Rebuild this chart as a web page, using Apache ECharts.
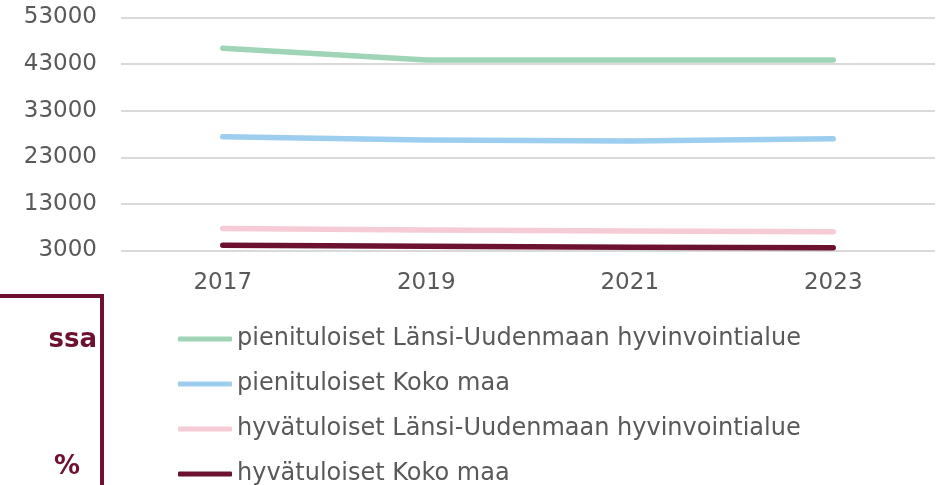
<!DOCTYPE html>
<html>
<head>
<meta charset="utf-8">
<script src="https://cdn.jsdelivr.net/npm/echarts@6/dist/echarts.min.js"></script>
<style>
  html, body { margin: 0; padding: 0; background: #fff; }
  #chart { width: 945px; height: 485px; }
</style>
</head>
<body>
<div id="chart"></div>
<script>
var years = ['2017', '2019', '2021', '2023'];
var yTicks = [3000, 13000, 23000, 33000, 43000, 53000];

var seriesNames = [
    'pienituloiset Länsi-Uudenmaan hyvinvointialue',
    'pienituloiset Koko maa',
    'hyvätuloiset Länsi-Uudenmaan hyvinvointialue',
    'hyvätuloiset Koko maa'
];
var pieniLU = [46400, 43900, 43900, 43900];
var pieniKoko = [27400, 26700, 26500, 27000];
var hyvaLU = [7700, 7400, 7200, 7000];
var hyvaKoko = [4100, 3900, 3700, 3600];
var colors = ['#9fd5b6', '#9dcdef', '#f5ccd5', '#6d1131'];

var txt = '#595959';
var font = 'Verdana, "DejaVu Sans", sans-serif';

var chart = echarts.init(document.getElementById('chart'));

function line(name, data, color) {
    return {
        name: name,
        type: 'line',
        data: data,
        symbol: 'none',
        lineStyle: { color: color, width: 5.5, cap: 'round', join: 'round' },
        itemStyle: { color: color },
        animation: false
    };
}

chart.setOption({
    grid: { left: 121, right: 10, top: 17.5, bottom: 234.5 },
    xAxis: {
        type: 'category',
        data: years,
        boundaryGap: true,
        axisLine: { show: false },
        axisTick: { show: false },
        axisLabel: { color: txt, fontFamily: font, fontSize: 23, margin: 21 }
    },
    yAxis: {
        type: 'value',
        min: 3000,
        max: 53000,
        axisLine: { show: false },
        axisTick: { show: false, customValues: yTicks },
        axisLabel: {
            color: txt, fontFamily: font, fontSize: 23, margin: 24,
            customValues: yTicks,
            formatter: function (v) { return String(v); }
        },
        splitLine: { lineStyle: { color: '#d9d9d9', width: 2 } }
    },
    legend: {
        orient: 'vertical',
        left: 178,
        top: 327,
        height: 200,
        padding: 0,
        itemWidth: 54,
        itemHeight: 5,
        itemGap: 21,
        icon: 'roundRect',
        textStyle: { color: txt, fontFamily: font, fontSize: 24, lineHeight: 24 },
        data: seriesNames
    },
    graphic: [
        {
            type: 'rect',
            shape: { x: -10, y: 296, width: 112, height: 220 },
            style: { fill: 'none', stroke: '#6d1131', lineWidth: 4 }
        },
        {
            type: 'text',
            style: { x: 97, y: 340, text: 'ssa', align: 'right', verticalAlign: 'middle',
                fill: '#6d1131', font: 'bold 26px Verdana, "DejaVu Sans", sans-serif' }
        },
        {
            type: 'text',
            style: { x: 80, y: 467, text: '%', align: 'right', verticalAlign: 'middle',
                fill: '#6d1131', font: 'bold 26px Verdana, "DejaVu Sans", sans-serif' }
        }
    ],
    series: [
        line(seriesNames[0], pieniLU, colors[0]),
        line(seriesNames[1], pieniKoko, colors[1]),
        line(seriesNames[2], hyvaLU, colors[2]),
        line(seriesNames[3], hyvaKoko, colors[3])
    ]
});
</script>
</body>
</html>
